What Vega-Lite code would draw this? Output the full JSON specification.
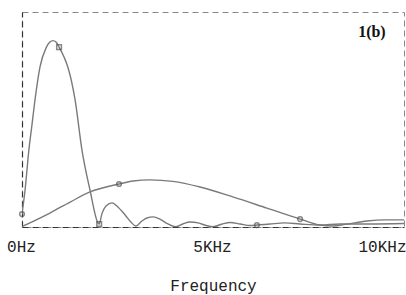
{
  "$schema": "https://vega.github.io/schema/vega-lite/v6.json",
  "width": 382,
  "height": 215,
  "autosize": {"type": "none"},
  "padding": {"left": 22, "top": 12, "right": 2, "bottom": 68},
  "background": "white",
  "config": {
    "view": {"stroke": "#888", "strokeDash": [6, 4], "strokeWidth": 1}
  },
  "datasets": {
    "curves": [
      {"series": "A", "f": 0, "v": 6.0},
      {"series": "A", "f": 0.08, "v": 17.2},
      {"series": "A", "f": 0.18, "v": 35.8},
      {"series": "A", "f": 0.26, "v": 47.4},
      {"series": "A", "f": 0.34, "v": 59.1},
      {"series": "A", "f": 0.47, "v": 74.4},
      {"series": "A", "f": 0.63, "v": 83.3},
      {"series": "A", "f": 0.73, "v": 86.0},
      {"series": "A", "f": 0.81, "v": 86.7},
      {"series": "A", "f": 0.89, "v": 86.0},
      {"series": "A", "f": 0.97, "v": 83.7},
      {"series": "A", "f": 1.10, "v": 79.1},
      {"series": "A", "f": 1.20, "v": 74.4},
      {"series": "A", "f": 1.39, "v": 59.1},
      {"series": "A", "f": 1.57, "v": 35.8},
      {"series": "A", "f": 1.78, "v": 17.2},
      {"series": "A", "f": 1.99, "v": 1.9},
      {"series": "A", "f": 2.02, "v": 1.4},
      {"series": "A", "f": 2.09, "v": 6.0},
      {"series": "A", "f": 2.20, "v": 9.8},
      {"series": "A", "f": 2.36, "v": 11.2},
      {"series": "A", "f": 2.51, "v": 9.3},
      {"series": "A", "f": 2.70, "v": 5.6},
      {"series": "A", "f": 2.85, "v": 2.3},
      {"series": "A", "f": 2.98, "v": 0.5},
      {"series": "A", "f": 3.14, "v": 2.8},
      {"series": "A", "f": 3.27, "v": 4.2},
      {"series": "A", "f": 3.43, "v": 4.7},
      {"series": "A", "f": 3.61, "v": 3.7},
      {"series": "A", "f": 3.82, "v": 1.4},
      {"series": "A", "f": 4.03, "v": 0.1},
      {"series": "A", "f": 4.21, "v": 1.4},
      {"series": "A", "f": 4.40, "v": 2.3},
      {"series": "A", "f": 4.61, "v": 1.9},
      {"series": "A", "f": 4.82, "v": 0.7},
      {"series": "A", "f": 5.00, "v": 0.1},
      {"series": "A", "f": 5.24, "v": 1.4},
      {"series": "A", "f": 5.45, "v": 2.1},
      {"series": "A", "f": 5.71, "v": 1.4},
      {"series": "A", "f": 5.97, "v": 0.7},
      {"series": "A", "f": 6.15, "v": 0.9},
      {"series": "A", "f": 6.49, "v": 1.4},
      {"series": "A", "f": 6.88, "v": 1.9},
      {"series": "A", "f": 7.28, "v": 1.4},
      {"series": "A", "f": 7.80, "v": 0.9},
      {"series": "A", "f": 8.32, "v": 1.4},
      {"series": "A", "f": 9.11, "v": 1.4},
      {"series": "A", "f": 10.0, "v": 1.6},
      {"series": "B", "f": 0, "v": 0.2},
      {"series": "B", "f": 0.73, "v": 6.5},
      {"series": "B", "f": 1.26, "v": 11.6},
      {"series": "B", "f": 1.78, "v": 16.3},
      {"series": "B", "f": 2.54, "v": 20.0},
      {"series": "B", "f": 2.91, "v": 21.4},
      {"series": "B", "f": 3.35, "v": 21.9},
      {"series": "B", "f": 3.95, "v": 21.2},
      {"series": "B", "f": 4.66, "v": 18.6},
      {"series": "B", "f": 5.52, "v": 14.0},
      {"series": "B", "f": 6.41, "v": 8.8},
      {"series": "B", "f": 7.28, "v": 3.7},
      {"series": "B", "f": 7.80, "v": 0.9},
      {"series": "B", "f": 8.14, "v": 0.5},
      {"series": "B", "f": 8.46, "v": 1.2},
      {"series": "B", "f": 9.03, "v": 2.8},
      {"series": "B", "f": 9.50, "v": 3.3},
      {"series": "B", "f": 10.0, "v": 3.3}
    ],
    "markers": [
      {"series": "A", "f": 0, "v": 6.0, "shape": "circle"},
      {"series": "A", "f": 0.97, "v": 83.7, "shape": "square"},
      {"series": "A", "f": 2.02, "v": 1.4, "shape": "square"},
      {"series": "A", "f": 6.15, "v": 0.9, "shape": "circle"},
      {"series": "B", "f": 2.54, "v": 20.0, "shape": "circle"},
      {"series": "B", "f": 7.28, "v": 3.7, "shape": "circle"}
    ],
    "labels": [
      {"f": 9.16, "v": 90.7, "label": "1(b)"}
    ]
  },
  "layer": [
    {
      "data": {"name": "curves"},
      "mark": {"type": "line", "color": "#7a7a7a", "strokeWidth": 1.4, "interpolate": "monotone", "clip": true},
      "encoding": {
        "x": {
          "field": "f", "type": "quantitative",
          "scale": {"domain": [0, 10], "nice": false, "zero": false},
          "axis": {
            "values": [0, 5, 10],
            "labelExpr": "datum.value == 0 ? '0Hz' : datum.value == 5 ? '5KHz' : '10KHz'",
            "labelFont": "Liberation Mono",
            "labelFontSize": 16,
            "labelColor": "#222",
            "labelAlign": {"condition": {"test": "datum.value == 10", "value": "right"}, "value": "center"},
            "labelOffset": {"condition": {"test": "datum.value == 10", "value": 2}, "value": -1},
            "labelPadding": 24,
            "labelBaseline": "alphabetic",
            "ticks": false,
            "grid": false,
            "domain": true,
            "domainColor": "#333",
            "domainDash": [6, 4],
            "domainWidth": 1.2,
            "title": "Frequency",
            "titleFont": "Liberation Mono",
            "titleFontSize": 16,
            "titleFontWeight": "normal",
            "titleColor": "#222",
            "titleBaseline": "alphabetic",
            "titleY": 63
          }
        },
        "y": {
          "field": "v", "type": "quantitative",
          "scale": {"domain": [0, 100], "nice": false},
          "axis": {
            "labels": false, "ticks": false, "grid": false, "title": null,
            "domain": true, "domainColor": "#333", "domainDash": [6, 4], "domainWidth": 1.2
          }
        },
        "detail": {"field": "series"}
      }
    },
    {
      "data": {"name": "markers"},
      "mark": {"type": "point", "filled": false, "size": 22, "stroke": "#555", "strokeWidth": 1.5},
      "encoding": {
        "x": {"field": "f", "type": "quantitative"},
        "y": {"field": "v", "type": "quantitative"},
        "shape": {"field": "shape", "type": "nominal", "scale": {"domain": ["circle", "square"], "range": ["circle", "square"]}, "legend": null}
      }
    },
    {
      "data": {"name": "labels"},
      "mark": {"type": "text", "font": "Liberation Serif", "fontSize": 16, "fontWeight": "bold", "color": "#111"},
      "encoding": {
        "x": {"field": "f", "type": "quantitative"},
        "y": {"field": "v", "type": "quantitative"},
        "text": {"field": "label"}
      }
    }
  ]
}
